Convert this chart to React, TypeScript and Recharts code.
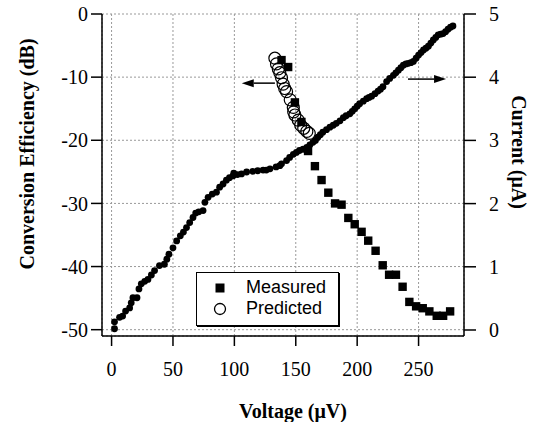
import React from 'react';
import { ComposedChart, Scatter, XAxis, YAxis, CartesianGrid, ReferenceLine, Legend } from 'recharts';

// axis ticks
const voltageTicks = [0, 50, 100, 150, 200, 250];
const efficiencyTicks = [-50, -40, -30, -20, -10, 0];
const currentTicks = [0, 1, 2, 3, 4, 5];

// current (uA) against voltage (uV), right axis
const currentPoints: [number, number][] = [
  [2.4, 0.02], [2.4, 0.13], [6.5, 0.2], [9, 0.22], [11.4, 0.3], [14.7, 0.35], [16, 0.43], [17.4, 0.51],
  [20.7, 0.51], [22.3, 0.65], [24.2, 0.73], [27, 0.77], [29.6, 0.8], [32.4, 0.87], [35, 0.94], [39, 1.02],
  [43, 1.04], [45, 1.12], [46.7, 1.2], [50, 1.3], [53, 1.41], [56, 1.49], [58.5, 1.55], [61, 1.62],
  [63.6, 1.7], [66.3, 1.78], [68.5, 1.85], [71, 1.87], [74.5, 1.89], [76, 2.02], [78.6, 2.1], [82, 2.15],
  [85.4, 2.18], [88, 2.26], [90.8, 2.31], [93.5, 2.37], [96, 2.41], [99, 2.44], [99.5, 2.48], [102.5, 2.46],
  [105.8, 2.47], [110, 2.5], [115, 2.51], [119, 2.52], [123.4, 2.53], [126, 2.53], [129, 2.55], [134, 2.58],
  [137, 2.6], [138.4, 2.63], [142.5, 2.68], [145, 2.73], [148, 2.78], [150.5, 2.81], [153, 2.84], [156, 2.86],
  [159, 2.89], [161.5, 2.93], [164, 2.97], [166, 3.0], [168, 3.05], [170, 3.09], [172, 3.13], [175, 3.17],
  [177.8, 3.21], [180.5, 3.24], [183, 3.27], [186, 3.31], [188.7, 3.36], [191, 3.39], [194, 3.42], [196, 3.46],
  [198, 3.5], [200, 3.54], [202, 3.58], [205, 3.62], [207.7, 3.66], [209.7, 3.68], [211.8, 3.7], [214.5, 3.74],
  [217, 3.78], [219, 3.81], [221, 3.85], [224, 3.93], [226.5, 3.98], [229.5, 4.03], [231.5, 4.07], [233.6, 4.11],
  [235.6, 4.15], [237.6, 4.19], [239.7, 4.21], [241.7, 4.22], [243.7, 4.23], [245.8, 4.25], [248, 4.3], [250, 4.35],
  [252, 4.39], [254, 4.43], [256, 4.46], [258, 4.49], [260, 4.54], [262, 4.59], [264, 4.63], [266, 4.67],
  [268, 4.68], [270, 4.69], [272, 4.72], [274, 4.76], [276, 4.79], [278, 4.81],
];

// conversion efficiency (dB), left axis
const measuredPoints: [number, number][] = [
  [138.4, -7.3], [143.8, -8.4], [149.3, -14.0], [154.6, -17.1], [160, -21.7], [165.6, -24.1], [171, -26.3],
  [176.5, -28.3], [182, -30], [187.3, -30.2], [192.8, -32.3], [198, -33.3], [203.6, -34.5], [209, -35.9],
  [215, -37.5], [220.8, -39.8], [226, -41.3], [231.6, -41.3], [237, -43.2], [242.5, -45.6], [248, -46.3],
  [253.4, -46.6], [258.8, -47.1], [264.8, -47.8], [270, -47.8], [275.7, -47.1],
];

const predictedPoints: [number, number][] = [
  [133, -7.0], [134.3, -7.9], [135.8, -8.7], [137, -9.3], [138.4, -10.1], [139.7, -11.1], [141, -11.8],
  [142.5, -12.3], [145.5, -13.6], [148, -14.8], [148.3, -15.5], [149.3, -16], [152, -16.8], [154, -17.6],
  [156.5, -18.1], [159, -18.6], [161, -18.9],
];

// direction arrows: [x1, y1, x2, y2], arrow head at the second point
const efficiencyArrow = [133, -10.95, 106, -10.95];
const currentArrow = [241.4, 3.97, 272.4, 3.97];

const legendItems = ['Measured', 'Predicted'];

const SERIF = '"Liberation Serif", "Times New Roman", serif';
const SANS = '"Liberation Sans", Arial, sans-serif';

const currentData = currentPoints.map(([v, i]) => ({ v, i }));
const measuredData = measuredPoints.map(([v, db]) => ({ v, db }));
const predictedData = predictedPoints.map(([v, db]) => ({ v, db }));

const Dot = (p: any) => <circle cx={p.cx} cy={p.cy} r={3.4} fill="#000" />;
const Square = (p: any) => <rect x={p.cx - 4.2} y={p.cy - 4.2} width={8.4} height={8.4} fill="#000" />;
const Ring = (p: any) => <circle cx={p.cx} cy={p.cy} r={6} fill="none" stroke="#000" strokeWidth={1.2} />;

const Arrow = (p: any) => {
  const { x1, y1, x2, y2 } = p;
  const dir = x2 > x1 ? 1 : -1;
  const head = 12;
  return (
    <g>
      <line x1={x1} y1={y1} x2={x2 - dir * head} y2={y2} stroke="#000" strokeWidth={1.5} />
      <polygon points={`${x2},${y2} ${x2 - dir * head},${y2 - 4} ${x2 - dir * head},${y2 + 4}`} fill="#000" />
    </g>
  );
};

const LegendBox = () => (
  <div
    style={{
      width: 143,
      height: 54,
      boxSizing: 'border-box',
      border: '1.5px solid #000',
      boxShadow: '1px 1px 0 #000',
      background: '#fff',
      fontFamily: SANS,
      fontSize: 18,
      color: '#000',
      paddingTop: 4,
    }}
  >
    {legendItems.map((name, idx) => (
      <div key={name} style={{ display: 'flex', alignItems: 'center', height: 21 }}>
        <svg width={14} height={14} style={{ marginLeft: 16, marginRight: 19 }}>
          {idx === 0 ? (
            <rect x={2.5} y={2.5} width={9} height={9} fill="#000" />
          ) : (
            <circle cx={7} cy={7} r={5.5} fill="none" stroke="#000" strokeWidth={1.3} />
          )}
        </svg>
        <span style={{ lineHeight: '21px' }}>{name}</span>
      </div>
    ))}
  </div>
);

const tickStyle = { fill: '#000', fontSize: 20, fontFamily: SERIF };
const titleStyle = { fill: '#000', fontSize: 20, fontFamily: SERIF, fontWeight: 'bold', textAnchor: 'middle' as const };

export default function App() {
  return (
    <div style={{ position: 'absolute', left: 0, top: 0, background: '#fff' }}>
      <ComposedChart width={544} height={422} margin={{ top: 14, right: 0, bottom: 0, left: 0 }}>
        <CartesianGrid yAxisId="left" strokeDasharray="2 2" stroke="#999" />
        <XAxis
          type="number"
          dataKey="v"
          domain={[-7.8, 287]}
          ticks={voltageTicks}
          allowDataOverflow
          height={86}
          tickSize={10}
          tickMargin={16}
          stroke="#000"
          strokeWidth={1.5}
          tick={tickStyle}
          label={{ value: 'Voltage (\u03bcV)', position: 'insideBottom', offset: 4, dx: 10, style: titleStyle }}
        />
        <YAxis
          yAxisId="left"
          type="number"
          domain={[-51, 0]}
          ticks={efficiencyTicks}
          allowDataOverflow
          width={102}
          tickSize={11}
          tickMargin={3}
          stroke="#000"
          strokeWidth={1.5}
          tick={tickStyle}
          label={{ value: 'Conversion Efficiency (dB)', angle: -90, position: 'insideLeft', offset: 27, dy: -21, style: titleStyle }}
        />
        <YAxis
          yAxisId="right"
          orientation="right"
          type="number"
          domain={[-0.095, 5]}
          ticks={currentTicks}
          allowDataOverflow
          width={80}
          tickSize={12}
          tickMargin={13}
          stroke="#000"
          strokeWidth={1.5}
          tick={tickStyle}
          label={{ value: 'Current (\u03bcA)', angle: 90, position: 'insideRight', offset: 25, dy: -23, style: titleStyle }}
        />
        <Scatter yAxisId="right" data={currentData} dataKey="i" shape={Dot} isAnimationActive={false} />
        <Scatter yAxisId="left" data={predictedData} dataKey="db" shape={Ring} isAnimationActive={false} />
        <Scatter yAxisId="left" data={measuredData} dataKey="db" shape={Square} isAnimationActive={false} />
        <ReferenceLine
          yAxisId="left"
          segment={[{ x: efficiencyArrow[0], y: efficiencyArrow[1] }, { x: efficiencyArrow[2], y: efficiencyArrow[3] }]}
          shape={Arrow}
          ifOverflow="visible"
        />
        <ReferenceLine
          yAxisId="right"
          segment={[{ x: currentArrow[0], y: currentArrow[1] }, { x: currentArrow[2], y: currentArrow[3] }]}
          shape={Arrow}
          ifOverflow="visible"
        />
        <Legend
          layout="horizontal"
          verticalAlign="middle"
          align="center"
          content={() => <LegendBox />}
          wrapperStyle={{ left: 196, top: 272, width: 143, height: 54 }}
        />
      </ComposedChart>
    </div>
  );
}
